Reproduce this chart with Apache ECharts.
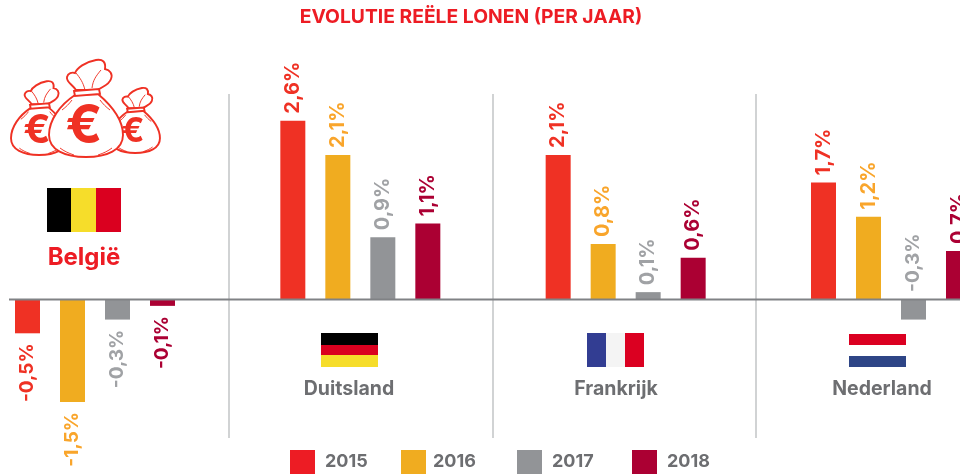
<!DOCTYPE html>
<html>
<head>
<meta charset="utf-8">
<style>html,body{margin:0;padding:0;background:#fff}#c{width:960px;height:474px}</style>
<script src="https://cdn.jsdelivr.net/npm/echarts@6/dist/echarts.min.js"></script>
</head>
<body>
<div id="c"></div>
<script>
const countries = ['België', 'Duitsland', 'Frankrijk', 'Nederland'];
const years = ['2015', '2016', '2017', '2018'];
const v2015 = [-0.5, 2.6, 2.1, 1.7];
const v2016 = [-1.5, 2.1, 0.8, 1.2];
const v2017 = [-0.3, 0.9, 0.1, -0.3];
const v2018 = [-0.1, 1.1, 0.6, 0.7];
const yearValues = [v2015, v2016, v2017, v2018];
const barColors = ['#EF3124', '#F0AC20', '#929497', '#AB0033'];
const labelColors = ['#EF3124', '#F9A52B', '#A0A2A5', '#AB0033'];
const legendColors = ['#ED1C24', '#F0AC20', '#929497', '#AB0033'];
const legendLeft = [290, 401, 517, 632];
const legendTextGap = [5, 2, 5, 5];
const FONT = 'Inter, "Open Sans", sans-serif';

const chart = echarts.init(document.getElementById('c'), null, {renderer: 'canvas'});

// The reference prints the Dutch 2017 label above the axis, over its negative bar.
const labelAbove = (i, j, v) => v >= 0 || (i === 2 && j === 3);

const series = years.map((y, i) => ({
  name: y,
  type: 'bar',
  barWidth: 25,
  barGap: '80%',
  itemStyle: {color: barColors[i]},
  data: yearValues[i].map((v, j) => {
    const above = labelAbove(i, j, v);
    return {
      value: v,
      label: {
        show: true,
        rotate: 90,
        position: above ? 'top' : 'bottom',
        align: above ? 'left' : 'right',
        verticalAlign: 'middle',
        distance: above ? 11 : 6,
        offset: [-4, 0],
        color: labelColors[i],
        fontFamily: FONT,
        fontWeight: 700,
        fontSize: v >= 0 ? 20 : 19,
        formatter: p => p.value.toFixed(1).replace('.', ',') + '%'
      }
    };
  })
}));

function rect(x, y, w, h, fill) {
  return {type: 'rect', shape: {x, y, width: w, height: h}, style: {fill}, silent: true};
}
function sep(x) {
  return {type: 'line', shape: {x1: x, y1: 94, x2: x, y2: 438}, style: {stroke: '#D1D3D4', lineWidth: 2}, silent: true, z: 1};
}
function countryText(name, x) {
  return {type: 'text', x, y: 389, silent: true, style: {text: name, fill: '#6D6E71', font: '700 19.5px ' + FONT, textAlign: 'center', textVerticalAlign: 'middle'}};
}
const bagBody = 'M75 95 C60 105 49 120 49 135 C49 150 65 157 86 157 C107 157 123 150 123 135 C123 120 111 105 98 94 Z';
const bagRuffle = 'M76 90 C72 84 66 82 67 77 C68 73 72 72 75 73 C77 68 85 62 96 60 C103 59 106 62 105 69 C110 70 113 74 111 79 C109 85 103 86 98 90 Z';
const bagTie = 'M74 91 L99 89 L100 94 L75 96 Z';
const bagFolds = 'M85 90 C83 82 80 78 76 73 M92 88 C93 80 96 76 101 70 M60 148 C64 151 68 153 74 155 M112 148 C108 151 104 153 98 155 M72 100 C69 104 66 107 62 110 M100 100 C103 104 106 107 110 110';
function bag(cx, by, s) {
  const tx = cx - 86.5 * s, ty = by - 157 * s;
  const lw = 1.9 / s;
  return [bagBody, bagRuffle, bagTie, bagFolds].map((d, i) => ({
    type: 'path',
    x: tx, y: ty, scaleX: s, scaleY: s,
    shape: {pathData: d},
    style: {fill: i === 3 ? 'none' : '#fff', stroke: '#EF3124', lineWidth: i === 3 ? lw * 0.5 : lw},
    silent: true
  }));
}
function euro(x, y, size) {
  return {type: 'text', x, y, silent: true,
    style: {text: '€', fill: '#EF3124', font: '700 ' + size + 'px Inter, "Liberation Sans", sans-serif', textAlign: 'center', textVerticalAlign: 'middle'}};
}
series.push({
  type: 'custom',
  coordinateSystem: 'none',
  silent: true,
  data: [0],
  renderItem: () => ({
    type: 'group',
    children: [
      ...bag(39.5, 155, 0.76), euro(37, 131, 40),
      ...bag(135.5, 153, 0.67), euro(133, 132, 34),
      ...bag(86.5, 157, 1), euro(84, 127, 54)
    ]
  })
});

const graphicEls = [
  sep(229), sep(493), sep(756),
  {type: 'line', shape: {x1: 9, y1: 299.5, x2: 960, y2: 299.5}, style: {stroke: '#808285', lineWidth: 2}, silent: true, z: 10},
  rect(47, 188, 24, 44, '#000000'), rect(71, 188, 25, 44, '#F6DD2A'), rect(96, 188, 25, 44, '#DA001F'),
  {type: 'text', x: 84, y: 258, silent: true, style: {text: countries[0], fill: '#ED1C24', font: '700 24px ' + FONT, textAlign: 'center', textVerticalAlign: 'middle'}},
  rect(321, 333, 57, 12, '#000000'), rect(321, 345, 57, 10, '#DA001F'), rect(321, 355, 57, 12, '#F6DD2A'),
  rect(587, 333, 19, 34, '#323D92'), rect(606, 333, 19, 34, '#F4F4F4'), rect(625, 333, 19, 34, '#DB0021'),
  rect(849, 334, 57, 11, '#DB0021'), rect(849, 356, 57, 11, '#2E4586'),
  countryText(countries[1], 349), countryText(countries[2], 616), countryText(countries[3], 882)
];

chart.setOption({
  animation: false,
  backgroundColor: '#fff',
  title: {
    text: 'EVOLUTIE REËLE LONEN (PER JAAR)',
    left: 466, top: 3, textAlign: 'center',
    textStyle: {color: '#ED1C24', fontFamily: FONT, fontWeight: 700, fontSize: 19.3}
  },
  legend: years.map((y, i) => ({
    left: legendLeft[i], top: 450, padding: 0,
    icon: 'rect', itemWidth: 25, itemHeight: 24,
    selectedMode: false,
    data: [{name: y, itemStyle: {color: legendColors[i]}}],
    textStyle: {color: '#6D6E71', fontFamily: FONT, fontWeight: 700, fontSize: 18, padding: [0, 0, 0, legendTextGap[i]]}
  })),
  grid: {left: -37.67, top: 93.2, width: 1061.33, height: 343, outerBoundsMode: 'none'},
  xAxis: {
    type: 'category',
    data: countries,
    axisLine: {show: false},
    axisTick: {show: false},
    splitLine: {show: false},
    axisLabel: {show: false}
  },
  yAxis: {type: 'value', min: -2, max: 3, interval: 1, show: false, splitLine: {show: false}},
  series,
  graphic: graphicEls
});
</script>
</body>
</html>
